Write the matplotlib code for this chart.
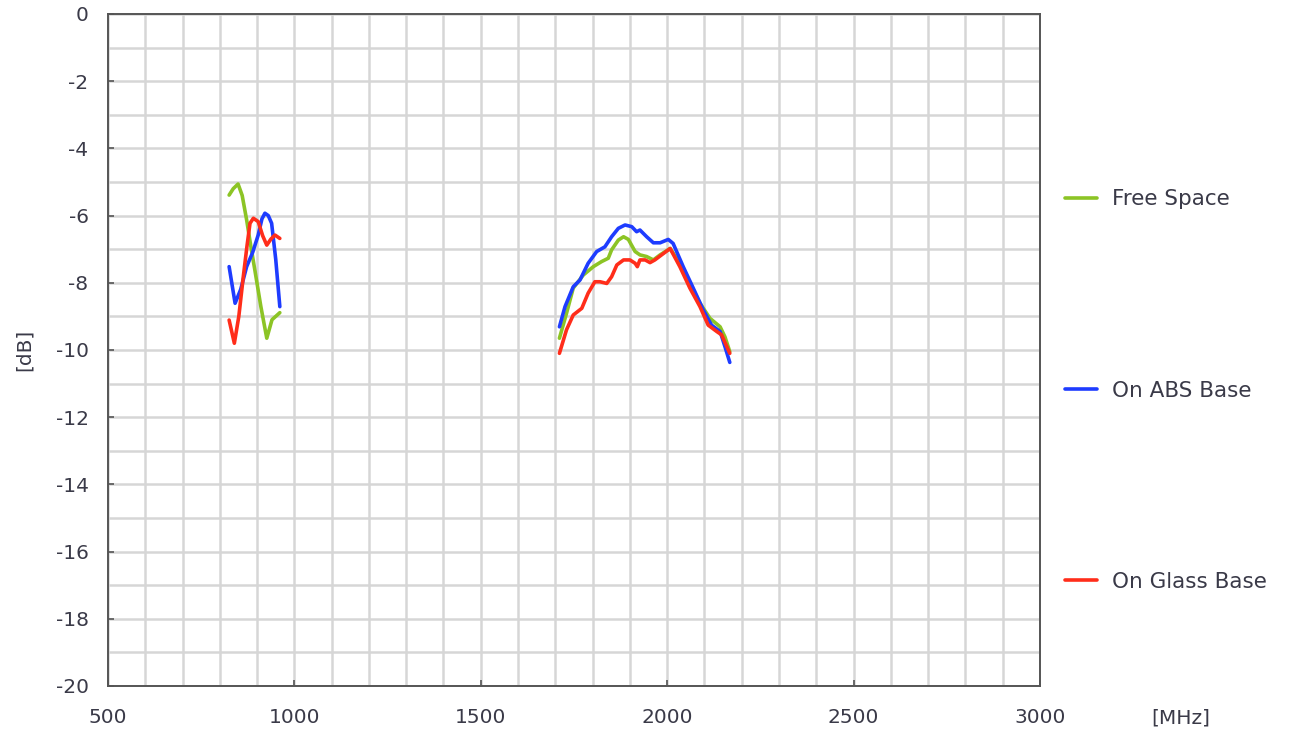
import matplotlib
matplotlib.use("Agg")
import matplotlib.pyplot as plt
from matplotlib.ticker import MultipleLocator

# Free Space
free_lo_f = [825, 836, 849, 860, 872, 883, 894, 910, 926, 940, 961]
free_lo_db = [-5.39, -5.2, -5.06, -5.4, -6.13, -6.9, -7.62, -8.7, -9.65, -9.1, -8.89]
free_hi_f = [1711, 1730, 1748, 1775, 1802, 1824, 1842, 1851, 1869, 1883, 1896, 1914,
             1927, 1945, 1963, 1981, 2008, 2034, 2061, 2088, 2115, 2142, 2155, 2168]
free_hi_db = [-9.65, -8.91, -8.16, -7.77, -7.52, -7.37, -7.27, -7.02, -6.73, -6.63, -6.71, -7.07,
              -7.17, -7.22, -7.32, -7.17, -6.98, -7.42, -8.02, -8.61, -9.06, -9.31, -9.61, -10.05]

# On ABS Base
abs_lo_f = [825, 841, 856, 872, 888, 903, 913, 921, 930, 939, 950, 961]
abs_lo_db = [-7.52, -8.61, -8.2, -7.52, -7.1, -6.58, -6.1, -5.93, -6.0, -6.23, -7.3, -8.71]
abs_hi_f = [1711, 1726, 1748, 1766, 1788, 1811, 1833, 1851, 1869, 1887, 1905, 1918, 1927,
            1945, 1963, 1981, 2003, 2016, 2043, 2070, 2097, 2119, 2142, 2155, 2168]
abs_hi_db = [-9.31, -8.71, -8.12, -7.92, -7.42, -7.07, -6.93, -6.63, -6.38, -6.28, -6.33, -6.48, -6.43,
             -6.63, -6.81, -6.81, -6.71, -6.83, -7.52, -8.16, -8.81, -9.26, -9.45, -9.90, -10.37]

# On Glass Base
glass_lo_f = [825, 839, 851, 863, 873, 881, 890, 903, 915, 926, 937, 948, 961]
glass_lo_db = [-9.11, -9.80, -9.0, -7.82, -6.9, -6.23, -6.08, -6.18, -6.6, -6.88, -6.7, -6.58, -6.68]
glass_hi_f = [1711, 1730, 1748, 1771, 1788, 1806, 1820, 1838, 1851, 1865, 1883, 1900, 1914, 1920,
              1927, 1941, 1954, 1967, 1985, 2008, 2034, 2061, 2088, 2110, 2133, 2146, 2168]
glass_hi_db = [-10.10, -9.40, -8.96, -8.76, -8.31, -7.97, -7.97, -8.02, -7.82, -7.47, -7.32, -7.32, -7.42, -7.52,
               -7.32, -7.32, -7.40, -7.32, -7.17, -6.98, -7.52, -8.16, -8.71, -9.26, -9.45, -9.55, -10.10]

series = [
    ("Free Space", "#8cc425", [(free_lo_f, free_lo_db), (free_hi_f, free_hi_db)]),
    ("On ABS Base", "#1e3cff", [(abs_lo_f, abs_lo_db), (abs_hi_f, abs_hi_db)]),
    ("On Glass Base", "#ff2d1a", [(glass_lo_f, glass_lo_db), (glass_hi_f, glass_hi_db)]),
]

text_color = "#3a3a48"
plt.rcParams["font.family"] = ["DejaVu Sans"]
plt.rcParams["axes.unicode_minus"] = False

fig = plt.figure(figsize=(12.93, 7.36), dpi=100)
ax = fig.add_axes([0.0835, 0.068, 0.7208, 0.913])

handles = []
for label, color, parts in series:
    for i, (f, db) in enumerate(parts):
        line, = ax.plot(f, db, color=color, lw=2.6, solid_capstyle="round",
                        solid_joinstyle="round", label=label if i == 0 else None)
        if i == 0:
            handles.append(line)

ax.set_xlim(500, 3000)
ax.set_ylim(-20, 0)
ax.xaxis.set_major_locator(MultipleLocator(500))
ax.xaxis.set_minor_locator(MultipleLocator(100))
ax.yaxis.set_major_locator(MultipleLocator(2))
ax.yaxis.set_minor_locator(MultipleLocator(1))
ax.grid(which="both", color="#d6d6d6", lw=1.8)
ax.set_axisbelow(True)
ax.tick_params(which="major", direction="in", length=4, width=1.2, color="#555555",
               labelsize=14.5, labelcolor=text_color)
ax.tick_params(axis="x", which="major", pad=16)
ax.tick_params(axis="y", which="major", pad=14)
ax.tick_params(which="minor", length=0)
for side in ["left", "bottom", "right", "top"]:
    ax.spines[side].set_color("#555555")
    ax.spines[side].set_linewidth(1.4)

ax.set_ylabel("[dB]", fontsize=14.5, color=text_color, labelpad=16)
fig.text(0.913, 0.025, "[MHz]", fontsize=14.5, color=text_color, ha="center", va="center")

ax.legend(handles=handles, loc="upper left", bbox_to_anchor=(1.027, 0.739),
          frameon=False, fontsize=15.5, labelcolor=text_color, handlelength=1.5,
          handletextpad=0.7, labelspacing=7.95, borderpad=0, borderaxespad=0)

fig.savefig("out.png", dpi=100)
